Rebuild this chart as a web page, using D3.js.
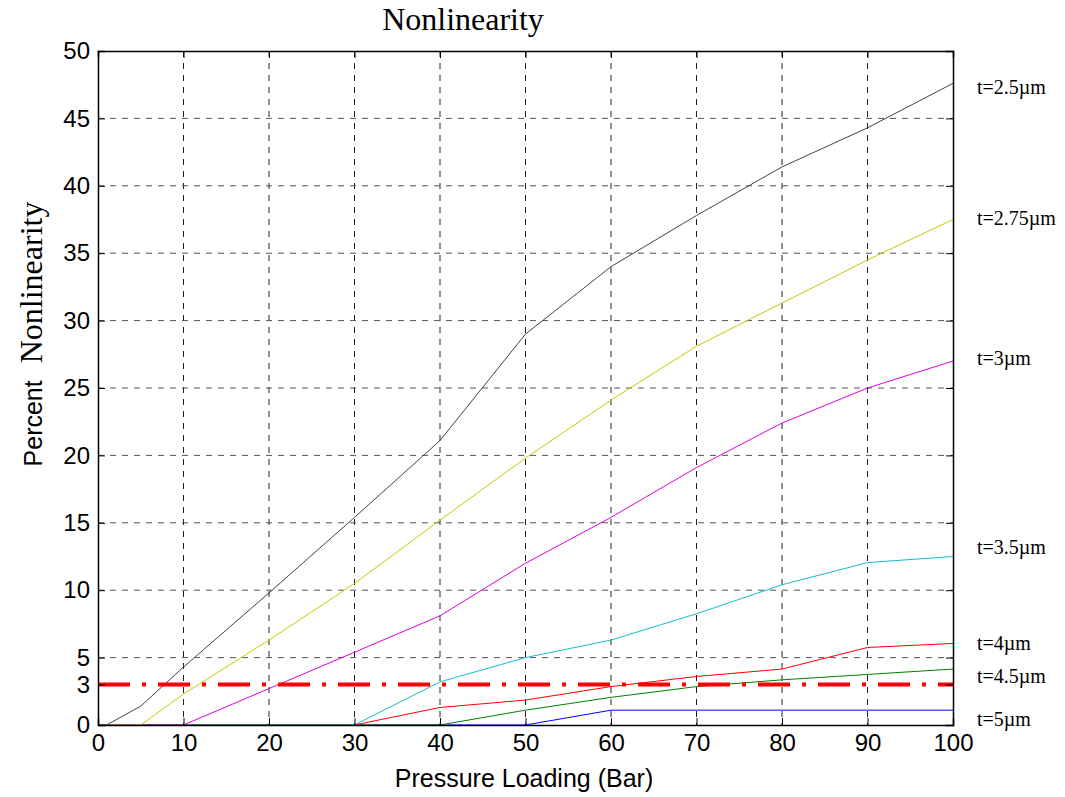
<!DOCTYPE html>
<html><head><meta charset="utf-8">
<script src="https://cdn.jsdelivr.net/npm/d3@7"></script>
<style>body{margin:0;background:#fff}svg{display:block}</style>
</head><body>
<script>
const pressure = [0, 1, 5, 10, 20, 30, 40, 50, 60, 70, 80, 90, 100];
const t25  = [0, 0, 1.4, 4.3, 9.8, 15.4, 21.1, 29.0, 34.0, 37.8, 41.4, 44.3, 47.6];
const t275 = [0, 0, 0, 2.3, 6.3, 10.5, 15.2, 19.8, 24.1, 28.1, 31.3, 34.5, 37.5];
const t3   = [0, 0, 0, 0, 2.7, 5.4, 8.1, 12.0, 15.4, 19.1, 22.4, 25.0, 27.0];
const t35  = [0, 0, 0, 0, 0, 0, 3.2, 5.0, 6.3, 8.25, 10.4, 12.05, 12.5];
const t4   = [0, 0, 0, 0, 0, 0, 1.3, 1.85, 2.85, 3.6, 4.15, 5.75, 6.05];
const t45  = [0, 0, 0, 0, 0, 0, 0, 1.1, 2.05, 2.85, 3.35, 3.75, 4.15];
const t5   = [0, 0, 0, 0, 0, 0, 0, 0, 1.1, 1.1, 1.1, 1.1, 1.1];
const seriesNames = ["t=2.5\u00b5m", "t=2.75\u00b5m", "t=3\u00b5m", "t=3.5\u00b5m", "t=4\u00b5m", "t=4.5\u00b5m", "t=5\u00b5m"];
const seriesColors = ["#444444", "#c8c800", "#e000e0", "#10c0c8", "#ff0000", "#008000", "#0000ff"];
const labelY = [47.3, 37.6, 27.2, 13.2, 6.1, 3.6, 0.45];
const xTicks = [0, 10, 20, 30, 40, 50, 60, 70, 80, 90, 100];
const yTicks = [0, 3, 5, 10, 15, 20, 25, 30, 35, 40, 45, 50];
const yGrid = [5, 10, 15, 20, 25, 30, 35, 40, 45];
const thresholdValue = 3;

const W = 1065, H = 797;
const L = 98, R = 953, T = 51, B = 725;
const svg = d3.select("body").append("svg").attr("width", W).attr("height", H);
const x = d3.scaleLinear().domain([0, 100]).range([L, R]);
const y = d3.scaleLinear().domain([0, 50]).range([B, T]);

// grid
svg.append("g").selectAll("line").data(xTicks.slice(1, -1)).join("line")
  .attr("x1", d => x(d)).attr("x2", d => x(d)).attr("y1", T).attr("y2", B)
  .attr("stroke", "#222").attr("stroke-width", 1).attr("stroke-dasharray", "6,6");
svg.append("g").selectAll("line").data(yGrid).join("line")
  .attr("x1", L).attr("x2", R).attr("y1", d => y(d)).attr("y2", d => y(d))
  .attr("stroke", "#555").attr("stroke-width", 1).attr("stroke-dasharray", "6,6");

// series
const all = [t25, t275, t3, t35, t4, t45, t5];
const line = d3.line().x((d, i) => x(pressure[i])).y(d => y(d));
all.slice().reverse().forEach((s, k) => {
  const i = all.length - 1 - k;
  svg.append("path").datum(s).attr("d", line).attr("fill", "none")
    .attr("stroke", seriesColors[i]).attr("stroke-width", 1);
});

// threshold
svg.append("line").attr("x1", x(0)).attr("x2", x(100))
  .attr("y1", y(thresholdValue)).attr("y2", y(thresholdValue))
  .attr("stroke", "#ff0000").attr("stroke-width", 4)
  .attr("stroke-dasharray", "32,12,4,12");

// axes
const fontA = "Arial, 'Liberation Sans', sans-serif";
const fontT = "'Times New Roman', 'Liberation Serif', serif";
const axB = svg.append("g").attr("transform", `translate(0,${B})`)
  .call(d3.axisBottom(x).tickValues(xTicks).tickSize(-7).tickPadding(9).tickFormat(d3.format("d")));
const axT = svg.append("g").attr("transform", `translate(0,${T})`)
  .call(d3.axisTop(x).tickValues(xTicks).tickSize(-7).tickFormat(""));
const axL = svg.append("g").attr("transform", `translate(${L},0)`)
  .call(d3.axisLeft(y).tickValues(yTicks).tickSize(-7).tickPadding(8).tickFormat(d3.format("d")));
const axR = svg.append("g").attr("transform", `translate(${R},0)`)
  .call(d3.axisRight(y).tickValues(yTicks).tickSize(-7).tickFormat(""));
[axB, axT, axL, axR].forEach(g => {
  g.select(".domain").attr("stroke", "#000").attr("stroke-width", 1.5);
  g.selectAll(".tick line").attr("stroke", "#000");
  g.selectAll("text").attr("font-family", fontA).attr("font-size", 24).attr("fill", "#000");
});
axB.selectAll(".tick text").attr("dy", "0.71em");

// series labels
svg.append("g").selectAll("text").data(seriesNames).join("text")
  .attr("x", 977).attr("y", (d, i) => y(labelY[i])).attr("dy", "0.35em")
  .attr("font-family", fontT).attr("font-size", 20).attr("fill", "#000").text(d => d);

// title
svg.append("text").attr("x", 463).attr("y", 30).attr("text-anchor", "middle")
  .attr("font-family", fontT).attr("font-size", 32).text("Nonlinearity");

// x label
svg.append("text").attr("x", 524).attr("y", 787).attr("text-anchor", "middle")
  .attr("font-family", fontA).attr("font-size", 25).text("Pressure Loading (Bar)");

// y label
const yl = svg.append("text").attr("transform", "translate(42,334) rotate(-90)")
  .attr("text-anchor", "middle");
yl.append("tspan").attr("font-family", fontA).attr("font-size", 25).text("Percent");
yl.append("tspan").attr("dx", 17).attr("font-family", fontT).attr("font-size", 32).text("Nonlinearity");
</script>
</body></html>
